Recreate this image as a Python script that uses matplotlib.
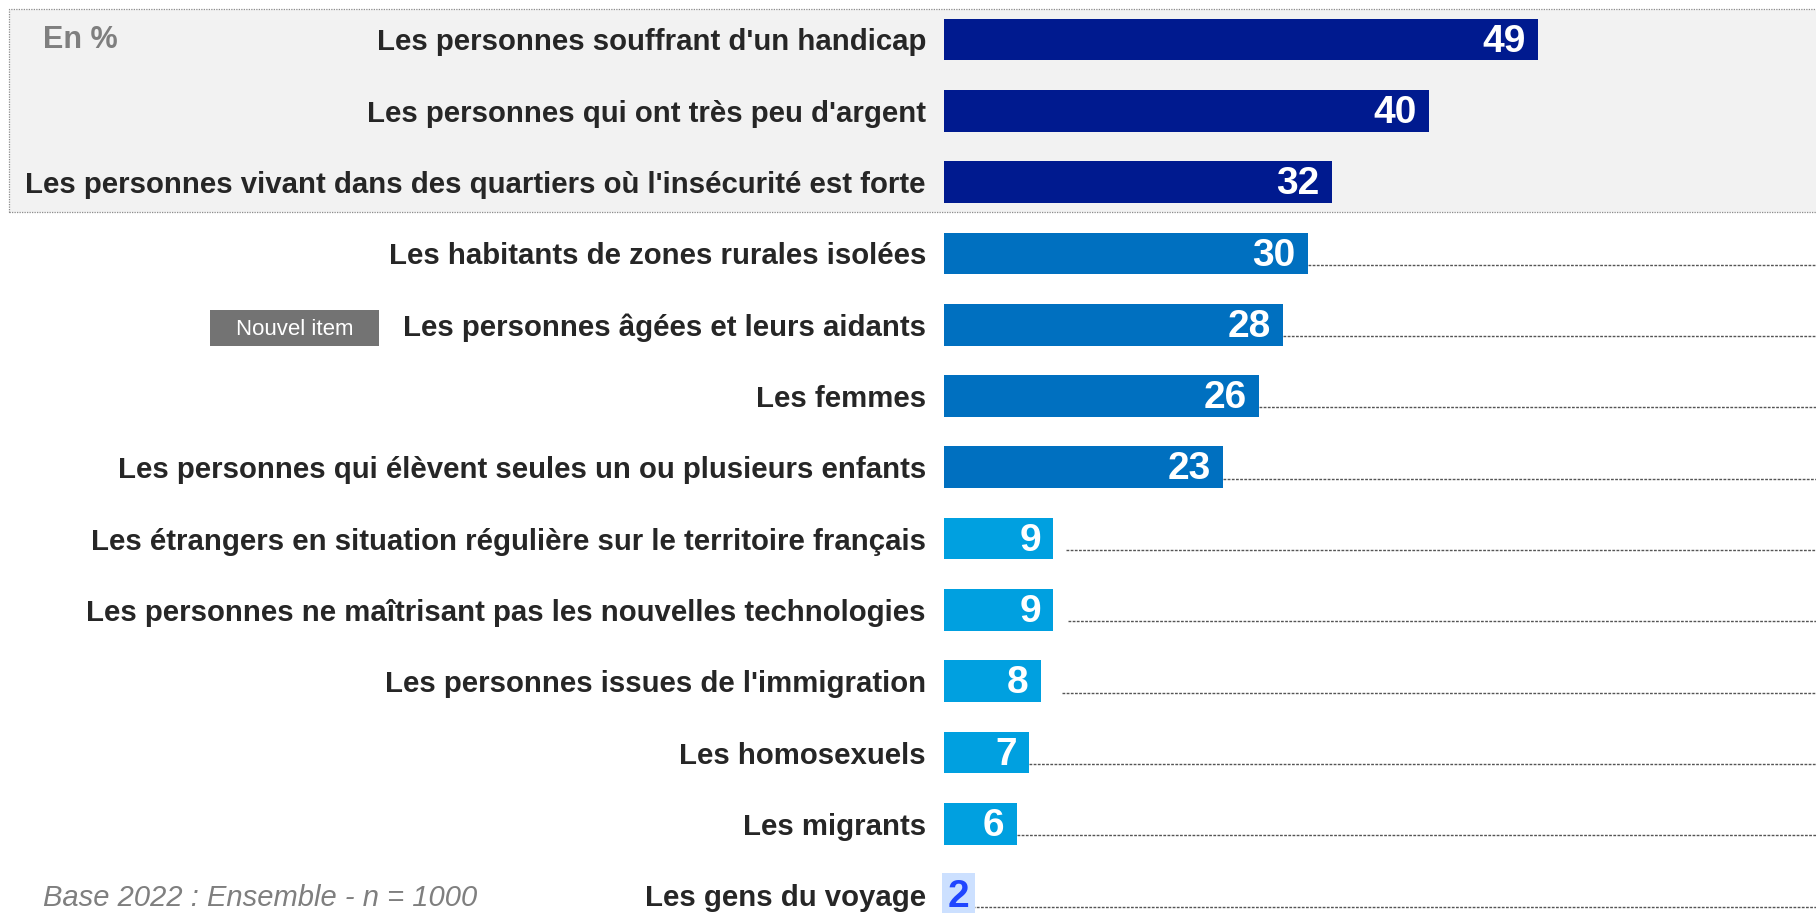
import matplotlib
matplotlib.use("Agg")
import matplotlib.pyplot as plt
from matplotlib.patches import Rectangle

FONT = "Liberation Sans"

categories = [
    "Les personnes souffrant d'un handicap",
    "Les personnes qui ont très peu d'argent",
    "Les personnes vivant dans des quartiers où l'insécurité est forte",
    "Les habitants de zones rurales isolées",
    "Les personnes âgées et leurs aidants",
    "Les femmes",
    "Les personnes qui élèvent seules un ou plusieurs enfants",
    "Les étrangers en situation régulière sur le territoire français",
    "Les personnes ne maîtrisant pas les nouvelles technologies",
    "Les personnes issues de l'immigration",
    "Les homosexuels",
    "Les migrants",
    "Les gens du voyage",
]
values = [49, 40, 32, 30, 28, 26, 23, 9, 9, 8, 7, 6, 2]
bar_colors = ["#001A8F"] * 3 + ["#0070C0"] * 4 + ["#00A0E0"] * 5 + ["#CCE0FF"]
label_colors = ["white"] * 12 + ["#2046FF"]
has_line = [False] * 3 + [True] * 10
line_gap = [0, 0, 0, 0, 0, 0, 0, 1.1, 1.2, 1.7, 0, 0, 0]

plt.rcParams["font.family"] = [FONT, "DejaVu Sans"]

W, H = 1816, 913
fig = plt.figure(figsize=(W / 100, H / 100), dpi=100)

# grey frame around the top three items
box = Rectangle((9 / W, 1 - 212 / H), 1 - 9 / W + 0.01, 203 / H,
                transform=fig.transFigure, facecolor="#F2F2F2",
                edgecolor="#8C8C8C", lw=0.9, ls=(0, (1, 1)), zorder=-1)
fig.patches.append(box)

x0 = 944 / W
ax = fig.add_axes([x0, 0, 1 - x0, 1])
ax.set_zorder(1)
ax.set_facecolor("none")
ax.set_xlim(0, (W - 944) / 12.12)
ax.set_ylim(12.25, -0.553)

ypos = list(range(len(categories)))
ax.barh(ypos, values, height=0.585, color=bar_colors, zorder=2)

xmax = ax.get_xlim()[1]
for y, v, c, tc, hl, gap in zip(ypos, values, bar_colors, label_colors, has_line, line_gap):
    if hl:
        ax.plot([v + gap, xmax], [y + 0.16, y + 0.16], color="#555555", lw=1.0,
                ls=(0, (2, 1)), zorder=1)
    if v > 3:
        ax.text(v - 1.0, y + 0.03, str(v), ha="right", va="center", color=tc,
                fontsize=28, fontweight="bold", zorder=3)
    else:
        ax.text(v / 2 + 0.2, y + 0.03, str(v), ha="center", va="center", color=tc,
                fontsize=28, fontweight="bold", zorder=3,
                bbox=dict(boxstyle="square,pad=0.15", fc=c, ec="none"))

ax.set_yticks(ypos)
ax.set_yticklabels(categories, fontsize=21.2, fontweight="bold", color="#262626")
ax.tick_params(axis="y", length=0, pad=13)
ax.tick_params(axis="x", bottom=False, labelbottom=False)
for s in ax.spines.values():
    s.set_visible(False)

fig.text(43 / W, 1 - 40 / H, "En %", fontsize=22, fontweight="bold",
         color="#7F7F7F", ha="left", va="center")
fig.patches.append(Rectangle((210 / W, 1 - 346 / H), 169 / W, 36 / H,
                             transform=fig.transFigure, facecolor="#737373",
                             edgecolor="none", zorder=2))
fig.text(294.5 / W, 1 - 329 / H, "Nouvel item", fontsize=16, color="white",
         ha="center", va="center", zorder=3)
fig.text(43 / W, 1 - 898 / H, "Base 2022 : Ensemble - n = 1000", fontsize=21,
         fontstyle="italic", color="#7F7F7F", ha="left", va="center")

fig.savefig("out.png", dpi=100)
